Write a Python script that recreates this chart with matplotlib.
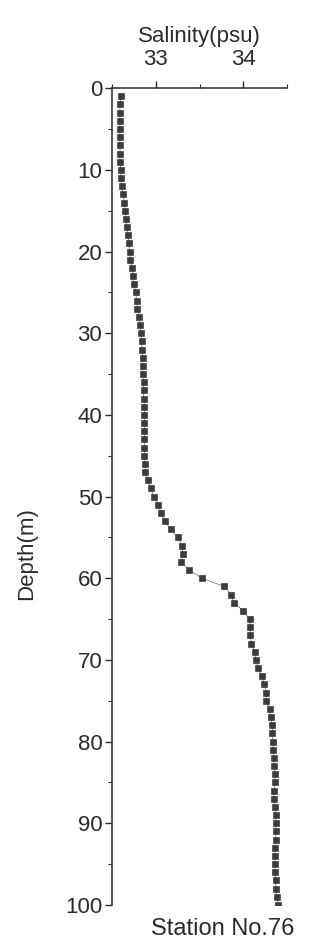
import numpy as np
import matplotlib
matplotlib.use('Agg')
import matplotlib.pyplot as plt
from matplotlib.ticker import MultipleLocator

plt.rcParams['font.family'] = ['Liberation Sans', 'DejaVu Sans']

# Salinity profile, one reading per metre
depth = list(range(1, 101))
salinity = [
    32.60, 32.59, 32.59, 32.59, 32.59, 32.59, 32.59, 32.59, 32.59, 32.60,
    32.60, 32.61, 32.63, 32.64, 32.65, 32.66, 32.67, 32.68, 32.69, 32.70,
    32.71, 32.73, 32.74, 32.75, 32.77, 32.78, 32.79, 32.81, 32.82, 32.83,
    32.84, 32.84, 32.85, 32.85, 32.85, 32.86, 32.86, 32.86, 32.87, 32.87,
    32.87, 32.87, 32.87, 32.87, 32.87, 32.88, 32.88, 32.91, 32.94, 32.98,
    33.03, 33.06, 33.10, 33.17, 33.25, 33.30, 33.31, 33.29, 33.38, 33.53,
    33.78, 33.86, 33.89, 34.00, 34.07, 34.08, 34.08, 34.09, 34.13, 34.14,
    34.17, 34.21, 34.24, 34.26, 34.26, 34.30, 34.31, 34.33, 34.33, 34.34,
    34.34, 34.35, 34.35, 34.36, 34.36, 34.35, 34.35, 34.36, 34.37, 34.37,
    34.37, 34.37, 34.36, 34.36, 34.36, 34.36, 34.37, 34.37, 34.38, 34.40,
]
x_ticks = [33, 34]
y_ticks = list(range(0, 101, 10))

fig = plt.figure(figsize=(3.23, 9.48), dpi=100)
ax = fig.add_axes([0.347, 0.0454, 0.542, 0.8616])

ink = '#2b2b2b'
ax.plot(salinity, depth, color='#666666', lw=0.5, zorder=1)
ax.plot(salinity, depth, ls='none', marker='s', ms=4.6, mfc='#3c3c3c',
        mec='#2a2a2a', mew=0.4, zorder=2)

ax.set_xlim(32.5, 34.5)
ax.set_ylim(100, 0)

# axis on top, depth on the left only
ax.xaxis.tick_top()
ax.xaxis.set_label_position('top')
ax.spines['right'].set_visible(False)
ax.spines['bottom'].set_visible(False)
for s in ('top', 'left'):
    ax.spines[s].set_linewidth(1.1)
    ax.spines[s].set_color(ink)

ax.set_xticks(x_ticks)
ax.xaxis.set_minor_locator(MultipleLocator(0.5))
ax.set_yticks(y_ticks)
ax.yaxis.set_minor_locator(MultipleLocator(5))
ax.tick_params(axis='both', which='major', length=5, width=1, color=ink,
               labelsize=16, labelcolor=ink)
ax.tick_params(axis='both', which='minor', length=3, width=0.8, color=ink)
ax.tick_params(axis='x', pad=8)
ax.tick_params(axis='y', pad=2)

ax.set_xlabel('Salinity(psu)', fontsize=16, color=ink, labelpad=5)
ax.set_ylabel('Depth(m)', fontsize=16, color=ink)
ax.yaxis.set_label_coords(-0.43, 0.43)

ax.text(0.634, -0.029, 'Station No.76', transform=ax.transAxes,
        ha='center', va='center', fontsize=17, color=ink)

fig.savefig('out.png', dpi=100, facecolor='white')
